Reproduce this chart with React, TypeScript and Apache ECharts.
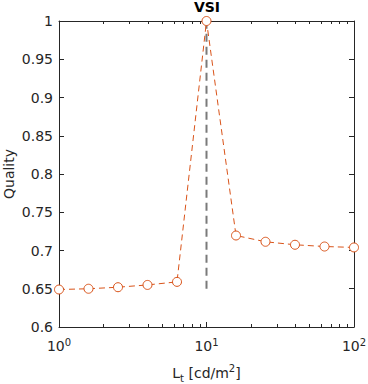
import React, { useEffect, useRef } from "react";
import * as echarts from "echarts";

const luminance = [1, 1.585, 2.512, 3.981, 6.31, 10, 15.85, 25.12, 39.81, 63.1, 100];
const quality = [0.649, 0.65, 0.652, 0.655, 0.659, 1.0, 0.7196, 0.7114, 0.7075, 0.7052, 0.704];
const markerX = [10, 10];
const markerY = [0.65, 1.0];
const xMajorTicks = [1, 10, 100];
const xMinorTicks = [2, 3, 4, 5, 6, 7, 8, 9, 20, 30, 40, 50, 60, 70, 80, 90];

const FONT = "DejaVu Sans";
const AXIS = "#262626";
const ORANGE = "#D95319";

export default function App() {
  const ref = useRef<HTMLDivElement>(null);
  useEffect(() => {
    const chart = echarts.init(ref.current!, null, { renderer: "svg" });
    const base = {
      type: "log",
      logBase: 10,
      min: 1,
      max: 100,
      gridIndex: 0,
      splitLine: { show: false },
      minorSplitLine: { show: false },
    };
    chart.setOption({
      animation: false,
      backgroundColor: "#ffffff",
      title: {
        text: "VSI",
        left: 207,
        top: 0,
        padding: 0,
        textAlign: "center",
        textStyle: { fontFamily: FONT, fontWeight: "bold", fontSize: 14, color: "#000" },
      },
      grid: { left: 59, right: 14, top: 21, bottom: 57, containLabel: false, outerBoundsMode: "none" },
      xAxis: [
        {
          ...base,
          position: "bottom",
          name: "L{sub|t} [cd/m{sup|2}]",
          nameLocation: "middle",
          nameGap: 36,
          nameMoveOverlap: false,
          nameTextStyle: {
            fontFamily: FONT,
            fontSize: 14,
            color: AXIS,
            rich: {
              sub: { fontFamily: FONT, fontSize: 10, color: AXIS, verticalAlign: "bottom", padding: [8, 0, 0, 0] },
              sup: { fontFamily: FONT, fontSize: 10, color: AXIS, verticalAlign: "top", padding: [0, 0, 10, 0] },
            },
          },
          axisLine: { show: true, lineStyle: { color: AXIS, width: 1 } },
          axisTick: { show: true, inside: true, length: 5, customValues: xMajorTicks, lineStyle: { color: AXIS } },
          axisLabel: {
            show: true,
            margin: 10,
            customValues: xMajorTicks,
            formatter: (v: number) => "10{sup|" + Math.round(Math.log10(v)) + "}",
            fontFamily: FONT,
            fontSize: 14,
            color: AXIS,
            rich: {
              sup: { fontFamily: FONT, fontSize: 10, color: AXIS, verticalAlign: "top", padding: [0, 0, 8, 0] },
            },
          },
        },
        {
          ...base,
          position: "top",
          axisLine: { show: true, lineStyle: { color: AXIS, width: 1 } },
          axisTick: { show: true, inside: true, length: 5, customValues: xMajorTicks, lineStyle: { color: AXIS } },
          axisLabel: { show: false },
        },
        {
          ...base,
          position: "bottom",
          axisLine: { show: false },
          axisTick: { show: true, inside: true, length: 3, customValues: xMinorTicks, lineStyle: { color: AXIS } },
          axisLabel: { show: false },
        },
        {
          ...base,
          position: "top",
          axisLine: { show: false },
          axisTick: { show: true, inside: true, length: 3, customValues: xMinorTicks, lineStyle: { color: AXIS } },
          axisLabel: { show: false },
        },
      ],
      yAxis: [
        {
          type: "value",
          min: 0.6,
          max: 1,
          interval: 0.05,
          position: "left",
          name: "Quality",
          nameLocation: "middle",
          nameGap: 43,
          nameMoveOverlap: false,
          nameTextStyle: { fontFamily: FONT, fontSize: 14, color: AXIS },
          splitLine: { show: false },
          axisLine: { show: true, lineStyle: { color: AXIS, width: 1 } },
          axisTick: { show: true, inside: true, length: 5, lineStyle: { color: AXIS } },
          axisLabel: {
            formatter: (v: number) => String(+v.toFixed(2)),
            fontFamily: FONT,
            fontSize: 14,
            color: AXIS,
            margin: 6,
          },
        },
        {
          type: "value",
          min: 0.6,
          max: 1,
          interval: 0.05,
          position: "right",
          splitLine: { show: false },
          axisLine: { show: true, lineStyle: { color: AXIS, width: 1 } },
          axisTick: { show: true, inside: true, length: 5, lineStyle: { color: AXIS } },
          axisLabel: { show: false },
        },
      ],
      series: [
        {
          type: "line",
          xAxisIndex: 0,
          yAxisIndex: 0,
          data: markerX.map((x, i) => [x, markerY[i]]),
          symbol: "none",
          lineStyle: { color: "#7a7a7a", width: 2, type: [8, 5] },
          z: 2,
        },
        {
          type: "line",
          xAxisIndex: 0,
          yAxisIndex: 0,
          data: luminance.map((x, i) => [x, quality[i]]),
          symbol: "circle",
          symbolSize: 9,
          itemStyle: { color: "#ffffff", borderColor: ORANGE, borderWidth: 1 },
          lineStyle: { color: ORANGE, width: 1, type: [6, 4] },
          z: 3,
        },
      ],
    });
    return () => chart.dispose();
  }, []);
  return <div ref={ref} style={{ position: "fixed", left: 0, top: 0, width: 368, height: 384 }} />;
}
